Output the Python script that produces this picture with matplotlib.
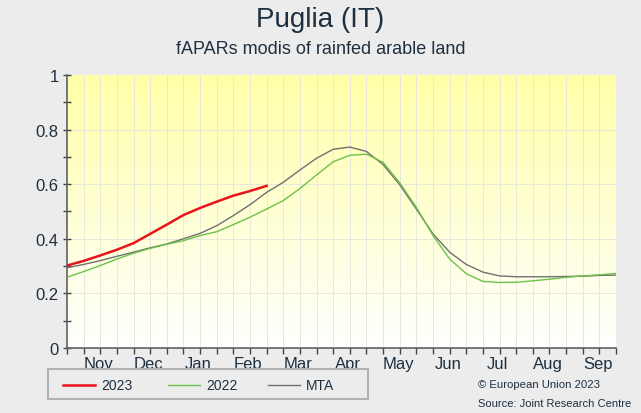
import numpy as np
import matplotlib
matplotlib.use("Agg")
import matplotlib.pyplot as plt
from matplotlib.patches import Rectangle
from matplotlib.lines import Line2D

plt.rcParams['font.family'] = ['Liberation Sans', 'DejaVu Sans']

months = ["Nov", "Dec", "Jan", "Feb", "Mar", "Apr", "May", "Jun", "Jul", "Aug", "Sep"]

y2023 = [0.302, 0.319, 0.339, 0.360, 0.384, 0.418, 0.452, 0.487, 0.513, 0.536,
         0.558, 0.575, 0.594]
y2022 = [0.259, 0.280, 0.302, 0.326, 0.347, 0.365, 0.380, 0.393, 0.412, 0.426,
         0.452, 0.479, 0.509, 0.540, 0.584, 0.634, 0.682, 0.706, 0.710, 0.680,
         0.605, 0.515, 0.412, 0.326, 0.272, 0.244, 0.240, 0.241, 0.246, 0.252,
         0.259, 0.264, 0.268, 0.273]
mta = [0.294, 0.306, 0.320, 0.336, 0.351, 0.367, 0.381, 0.400, 0.420, 0.448,
       0.485, 0.525, 0.570, 0.607, 0.652, 0.695, 0.728, 0.736, 0.720, 0.672,
       0.598, 0.509, 0.418, 0.351, 0.306, 0.278, 0.264, 0.261, 0.261, 0.261,
       0.262, 0.263, 0.266, 0.267]

W, H = 641, 414
fig = plt.figure(figsize=(W / 100, H / 100), dpi=100)
fig.patch.set_facecolor('#ececec')

ax = fig.add_axes([67 / W, 1 - 349 / H, (616 - 67) / W, (349 - 76) / H])
ax.set_xlim(0, 33)
ax.set_ylim(0, 1)

# gradient background
grad = np.linspace(0, 1, 256).reshape(-1, 1)
top = np.array([255, 255, 168]) / 255
bot = np.array([255, 255, 255]) / 255
img = bot[None, None, :] * (1 - grad[:, :, None]) + top[None, None, :] * grad[:, :, None]
ax.imshow(img, extent=[0, 33, 0, 1], origin='lower', aspect='auto', zorder=0)

for i in range(1, 33):
    ax.axvline(i, color='#e8e8dc', lw=0.7, zorder=1)
for v in [0.2, 0.4, 0.6, 0.8]:
    ax.axhline(v, color='#e8e8dc', lw=0.7, zorder=1)

x23 = np.arange(len(y2023))
x22 = np.arange(len(y2022))
xm = np.arange(len(mta))
ax.plot(xm, mta, color='#707070', lw=1.0, zorder=3)
ax.plot(x22, y2022, color='#6cc24a', lw=1.0, zorder=3)
ax.plot(x23, y2023, color='#e8141c', lw=1.8, zorder=4)

text_color = '#1e3040'
ax.set_yticks([0, 0.2, 0.4, 0.6, 0.8, 1.0])
ax.set_yticklabels(['0', '0.2', '0.4', '0.6', '0.8', '1'])
ax.set_yticks(np.arange(0.1, 1.0, 0.2), minor=True)
ax.tick_params(axis='y', which='both', direction='inout', length=6, width=1,
               color='#444444', labelsize=12, labelcolor=text_color, pad=3)

ax.set_xticks(np.arange(0, 34), minor=True)
ax.set_xticks([1.9 + 3 * k for k in range(len(months))])
ax.set_xticklabels(months)
ax.tick_params(axis='x', which='major', length=0, labelsize=12,
               labelcolor=text_color, pad=6)
ax.tick_params(axis='x', which='minor', direction='out', length=4, width=1,
               color='#444444')

for s in ['top', 'right']:
    ax.spines[s].set_visible(False)
for s in ['left', 'bottom']:
    ax.spines[s].set_color('#606060')
    ax.spines[s].set_linewidth(1.2)

fig.text(0.5, 1 - 20 / H, 'Puglia (IT)', ha='center', va='center',
         fontsize=20, color=text_color)
fig.text(0.5, 1 - 49 / H, 'fAPARs modis of rainfed arable land', ha='center',
         va='center', fontsize=13, color=text_color)

# legend box
fig.patches.append(Rectangle((48 / W, 1 - 400 / H), (368 - 48) / W, (400 - 370) / H,
                             transform=fig.transFigure, facecolor='#ececec',
                             edgecolor='#b0b0b0', lw=1.5))
legend_items = [("2023", '#e8141c', 1.8, 63), ("2022", '#6cc24a', 1.0, 168),
                ("MTA", '#707070', 1.0, 268)]
ly = 1 - 386 / H
for label, c, lw, x0 in legend_items:
    fig.lines.append(Line2D([x0 / W, (x0 + 32) / W], [ly, ly], transform=fig.transFigure,
                            color=c, lw=lw))
    fig.text((x0 + 38) / W, ly, label, ha='left', va='center', fontsize=10,
             color=text_color)

fig.text(478 / W, 1 - 385 / H, '© European Union 2023', ha='left', va='center',
         fontsize=8.2, color=text_color)
fig.text(478 / W, 1 - 404 / H, 'Source: Joint Research Centre', ha='left',
         va='center', fontsize=8, color=text_color)

fig.savefig('out.png', dpi=100, facecolor=fig.get_facecolor())
